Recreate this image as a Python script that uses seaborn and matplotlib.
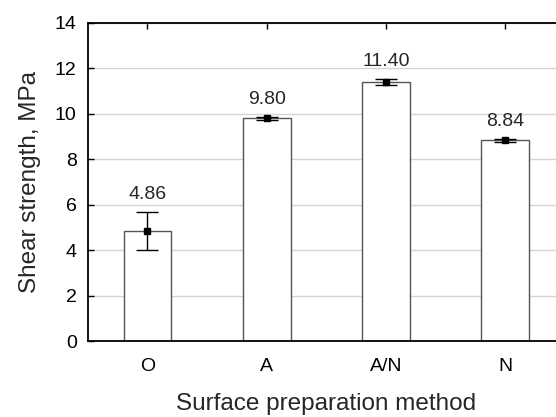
import pandas as pd
import matplotlib
matplotlib.use("Agg")
import matplotlib.pyplot as plt
import seaborn as sns

# Shear strength by surface preparation method
methods = ['O', 'A', 'A/N', 'N']
strength = [4.86, 9.80, 11.40, 8.84]
std_err = [0.83, 0.08, 0.15, 0.07]

df = pd.DataFrame({'Method': methods, 'Strength': strength, 'Err': std_err})

sns.set_style('white')
plt.rcParams['font.family'] = ['Liberation Sans', 'DejaVu Sans']

fig = plt.figure(figsize=(5.56, 4.17), dpi=100)
# right edge runs past the image, like the reference crop
ax = fig.add_axes([0.158, 0.182, 0.858, 0.763])

ax.yaxis.grid(True, color='#d4d4d4', linewidth=1)
ax.set_axisbelow(True)

sns.barplot(data=df, x='Method', y='Strength', color='white', saturation=1,
            edgecolor='#555555', linewidth=1, width=0.4, errorbar=None, ax=ax)

ax.errorbar(range(len(methods)), df['Strength'], yerr=df['Err'], fmt='s',
            color='black', ms=4, capsize=8, elinewidth=1, capthick=1, zorder=5)

for i, (v, e) in enumerate(zip(strength, std_err)):
    ax.annotate(f'{v:.2f}', (i, v + e), xytext=(0, 6), textcoords='offset points',
                ha='center', va='bottom', fontsize=14)

ax.set_ylim(0, 14)
ax.set_xlim(-0.5, 3.5)
ax.set_yticks(range(0, 15, 2))
ax.tick_params(axis='both', direction='in', labelsize=14, length=4, width=1, colors='black')
ax.tick_params(axis='x', top=True, pad=12)
ax.tick_params(axis='y', left=True, pad=8)
for s in ax.spines.values():
    s.set_color('black')
    s.set_linewidth(1.3)

ax.set_xlabel('Surface preparation method', fontsize=17.5, labelpad=13)
ax.set_ylabel('Shear strength, MPa', fontsize=17.5, labelpad=10)

fig.savefig('out.png', dpi=100)
